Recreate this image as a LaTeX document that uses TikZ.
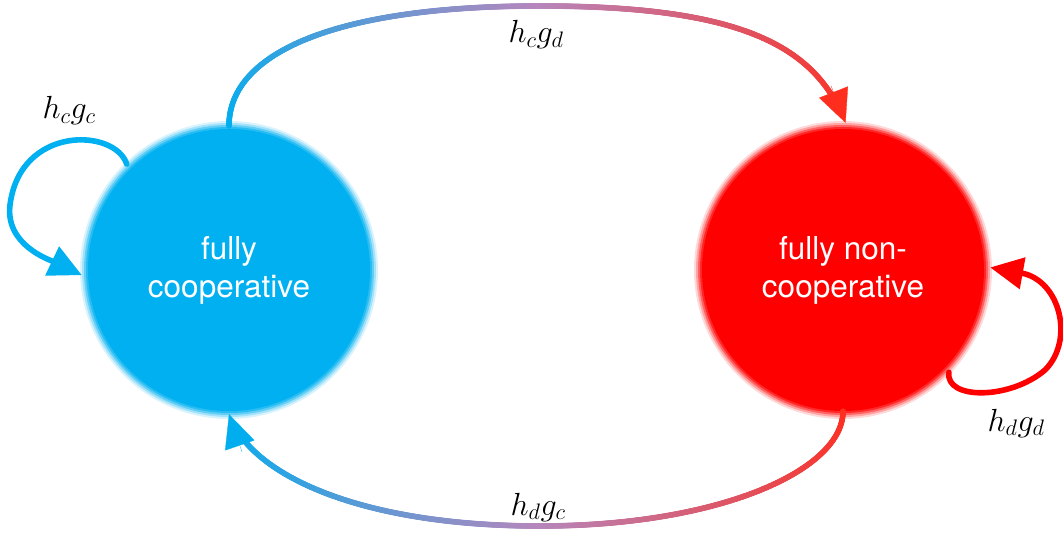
\RequirePackage{fix-cm}
\documentclass[tikz,border=0pt]{standalone}
\usepackage{fontspec}
\setsansfont{TeX Gyre Heros}
\usetikzlibrary{arrows.meta,decorations.markings,calc}
\definecolor{cblue}{RGB}{0,176,240}
\definecolor{cred}{RGB}{255,0,0}
\definecolor{gblue}{RGB}{0,174,239}
\definecolor{gmid}{RGB}{182,134,188}
\definecolor{gred}{RGB}{255,45,30}
\tikzset{
  tipstyle/.style={-{Triangle[length=33pt,width=31pt]}},
  loopline/.style={line width=5.6pt, line cap=round},
  tiponly/.style={tipstyle, line width=0.3pt},
  statetext/.style={circle, minimum size=294pt, inner sep=0pt, align=center,
    text=white, font=\sffamily\fontsize{31.5}{38}\selectfont},
  lbl/.style={font=\fontsize{32}{36}\selectfont},
  gradline/.style n args={3}{
    postaction={decorate, decoration={markings,
     mark=between positions 0 and -24pt step 0.7pt with {
       \pgfmathsetmacro\gfrac{\pgfkeysvalueof{/pgf/decoration/mark info/distance from start}/\pgfdecoratedpathlength*100}
       \ifdim\gfrac pt<50pt
         \pgfmathsetmacro\gq{2*\gfrac}\colorlet{gcol}{#2!\gq!#1}
       \else
         \pgfmathsetmacro\gq{2*\gfrac-100}\colorlet{gcol}{#3!\gq!#2}
       \fi
       \fill[gcol] (0,0) circle (2.85pt);
     }
  }}}
}
\begin{document}
\begin{tikzpicture}[x=1pt,y=-1pt]
\useasboundingbox (0,0) rectangle (1063,537);
\coordinate (Lc) at (229,270);
\coordinate (Rc) at (843,270);
% glowing discs
\foreach \rr/\oo in {149/0.15,147/0.25,145/0.4,143/0.6}{
  \fill[cblue, opacity=\oo] (Lc) circle (\rr pt);
  \fill[cred, opacity=\oo] (Rc) circle (\rr pt);
}
\fill[cblue] (Lc) circle (141pt);
\fill[cred] (Rc) circle (141pt);
\node[statetext] (L) at (Lc) {fully\\cooperative};
\node[statetext] (R) at (Rc) {fully non-\\cooperative};
% transitions between states
\coordinate (topmid) at (540,6);
\coordinate (botmid) at (540,526);
\coordinate (topc) at (815,45);
\coordinate (botc) at (250,475);
\path[gradline={gblue}{gmid}{gred}] ([yshift=-3pt]L.north) .. controls (229,55) and (330,6) .. (topmid)
   .. controls (740,6) and (topc) .. (R.89);
\draw[tiponly, gred] ($(R.89)!40pt!(topc)$) -- (R.89);
\path[gradline={gred}{gmid}{gblue}] ([yshift=6pt]R.south) .. controls (843,470) and (720,526) .. (botmid)
   .. controls (360,526) and (botc) .. ([yshift=3pt]L.south);
\draw[tiponly, gblue] ($([yshift=3pt]L.south)!40pt!(botc)$) -- ([yshift=3pt]L.south);
% self loops
\draw[loopline, tipstyle, cblue] (L.134) .. controls (115,128) and (20,125) .. (10,205) .. controls (5,245) and (50,260) .. (L.182);
\draw[loopline, tipstyle, cred] (R.-44) .. controls (945,400) and (1010,400) .. (1045,370) .. controls (1075,340) and (1060,280) .. (R.1);
% labels
\node[lbl] (lcc) at (69,111) {$h_cg_c$};
\node[lbl] (lcd) at (536,35) {$h_cg_d$};
\node[lbl] (ldc) at (538,507) {$h_dg_c$};
\node[lbl] (ldd) at (1016,423) {$h_dg_d$};
\end{tikzpicture}
\end{document}
